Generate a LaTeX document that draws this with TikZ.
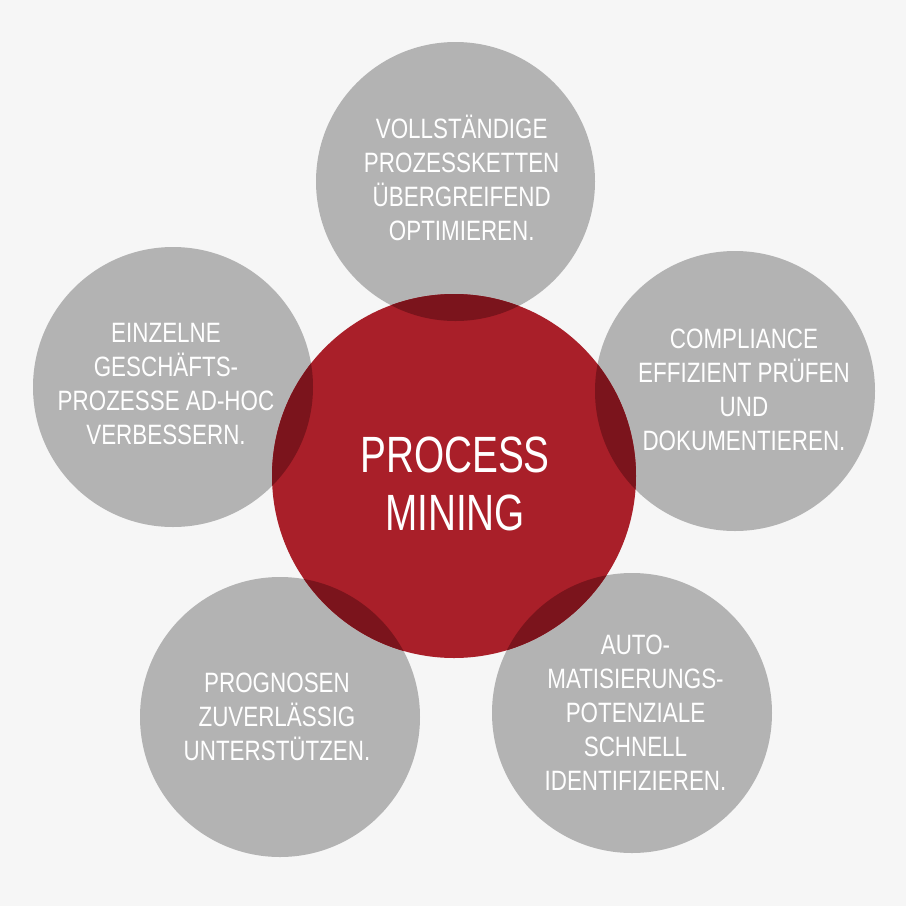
\documentclass[tikz,border=0pt]{standalone}
\usepackage{fontspec}
\setmainfont{Liberation Sans}[FakeStretch=0.8]
\newfontfamily\bigfont{Liberation Sans}[FakeStretch=0.76]
\definecolor{bgc}{HTML}{F6F6F6}
\definecolor{greyc}{HTML}{B3B3B3}
\definecolor{redc}{HTML}{A91F29}
\definecolor{darkc}{HTML}{7B141C}
\tikzset{
  smalltxt/.style={text=white, align=center, anchor=base, inner sep=0pt, font=\fontsize{28}{34}\selectfont},
  bigtxt/.style={text=white, align=center, anchor=base, inner sep=0pt, font=\bigfont\fontsize{51}{57.3}\selectfont},
}
\begin{document}
\begin{tikzpicture}[x=1pt,y=-1pt]
\useasboundingbox (0,0) rectangle (906,906);
\fill[bgc] (0,0) rectangle (906,906);
% outer circles
\fill[greyc] (455.5,181.5) circle (139.5);
\fill[greyc] (735,391) circle (140);
\fill[greyc] (173,387) circle (140);
\fill[greyc] (280,717) circle (140);
\fill[greyc] (632,713) circle (140);
% centre
\fill[redc] (454,476) circle (182);
\begin{scope}
\clip (454,476) circle (182);
\fill[darkc] (455.5,181.5) circle (139.5);
\fill[darkc] (735,391) circle (140);
\fill[darkc] (173,387) circle (140);
\fill[darkc] (280,717) circle (140);
\fill[darkc] (632,713) circle (140);
\end{scope}
% texts (anchor base = baseline of last line)
\node[bigtxt] (c) at (455,530) {PROCESS\\MINING};
\node[smalltxt] (t) at (461.7,240) {VOLLSTÄNDIGE\\PROZESSKETTEN\\ÜBERGREIFEND\\OPTIMIEREN.};
\node[smalltxt] (r) at (744,450) {COMPLIANCE\\EFFIZIENT PRÜFEN\\UND\\DOKUMENTIEREN.};
\node[smalltxt] (l) at (166,444) {EINZELNE\\GESCHÄFTS-\\PROZESSE AD-HOC\\VERBESSERN.};
\node[smalltxt] (bl) at (277,760) {PROGNOSEN\\ZUVERLÄSSIG\\UNTERSTÜTZEN.};
\node[smalltxt] (br) at (635.5,790) {AUTO-\\MATISIERUNGS-\\POTENZIALE\\SCHNELL\\IDENTIFIZIEREN.};
\end{tikzpicture}
\end{document}
